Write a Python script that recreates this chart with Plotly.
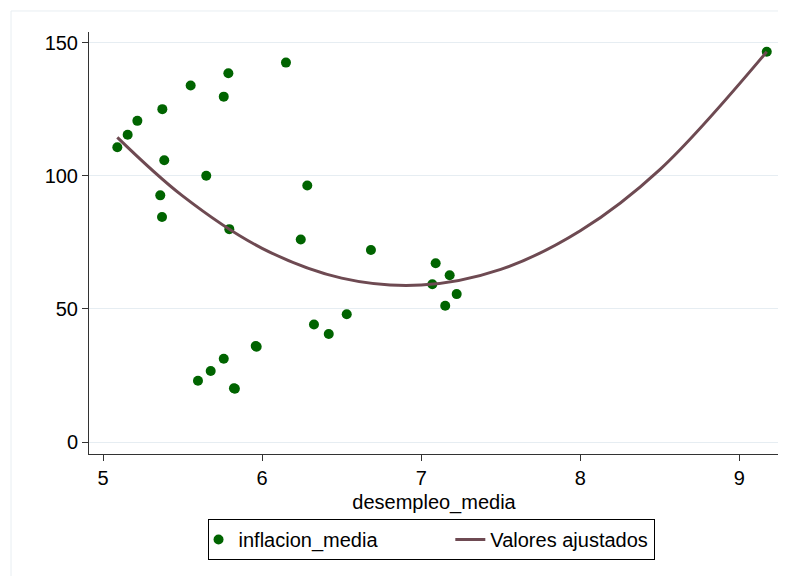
import plotly.graph_objects as go

# Data
desempleo_media = [5.090, 5.155, 5.216, 5.373, 5.551, 5.788, 5.759, 6.150,
                   5.385, 5.649, 5.360, 5.371, 5.794, 6.284, 6.243, 6.684,
                   9.172, 7.091, 7.179, 7.070, 7.223, 7.151,
                   6.326, 6.419, 6.532, 5.960, 5.966, 5.759, 5.677, 5.597,
                   5.823, 5.829]
inflacion_media = [110.8, 115.5, 120.7, 125.1, 134.0, 138.6, 129.8, 142.6,
                   105.9, 100.1, 92.7, 84.6, 80.0, 96.4, 76.1, 72.2,
                   146.7, 67.2, 62.7, 59.3, 55.6, 51.2,
                   44.2, 40.6, 48.0, 36.1, 35.8, 31.3, 26.7, 23.0,
                   20.2, 20.0]

# Fitted values (quadratic fit)
ajuste_x = [5.09, 5.5, 6.0, 6.5, 7.0, 7.5, 8.0, 8.5, 9.172]
ajuste_y = [114.5, 92.5, 72.8, 61.6, 59.0, 64.9, 79.4, 102.4, 146.7]

x_ticks = [5, 6, 7, 8, 9]
y_ticks = [0, 50, 100, 150]

FONT = "Liberation Sans, Arial, sans-serif"
PAD = "\u00a0" * 14  # spacing after the first legend entry

fig = go.Figure()
fig.add_trace(go.Scatter(
    x=desempleo_media, y=inflacion_media, mode="markers",
    name="inflacion_media" + PAD,
    marker=dict(color="#006400", size=10, line=dict(width=0)),
))
fig.add_trace(go.Scatter(
    x=ajuste_x, y=ajuste_y, mode="lines", name="Valores ajustados",
    line=dict(color="#6e4a52", width=3, shape="spline", smoothing=1.0),
))

# page body has an 8px margin, so the figure is sized/offset accordingly
fig.update_layout(
    width=778, height=568,
    paper_bgcolor="white", plot_bgcolor="white",
    margin=dict(l=81, r=7, t=24, b=122),
    font=dict(family=FONT, size=20, color="black"),
    showlegend=True,
    legend=dict(
        orientation="h", x=0.4957, xanchor="center", y=-0.154, yanchor="top",
        bordercolor="black", borderwidth=1, bgcolor="white",
        font=dict(family=FONT, size=20, color="black"),
        itemwidth=30, indentation=-10,
    ),
    shapes=[dict(type="rect", xref="paper", yref="paper",
                 x0=-0.113, x1=1.2, y0=-0.5, y1=1.0498,
                 line=dict(color="#e8eef2", width=1), layer="below")],
)

fig.update_xaxes(
    range=[4.912, 9.249], tickvals=x_ticks, ticks="outside", ticklen=6,
    tickcolor="#333333", showline=True, linecolor="#333333", linewidth=1,
    showgrid=False, zeroline=False,
    title=dict(text="desempleo_media", font=dict(size=20), standoff=6),
    tickfont=dict(size=20), automargin=False,
)
fig.update_yaxes(
    range=[-4.5, 154.1], tickvals=y_ticks, ticks="outside", ticklen=6,
    tickcolor="#333333", showline=True, linecolor="#333333", linewidth=1,
    showgrid=True, gridcolor="#e6edf2", gridwidth=1, zeroline=False,
    tickfont=dict(size=20), automargin=False,
)

fig.write_html("out.html")
